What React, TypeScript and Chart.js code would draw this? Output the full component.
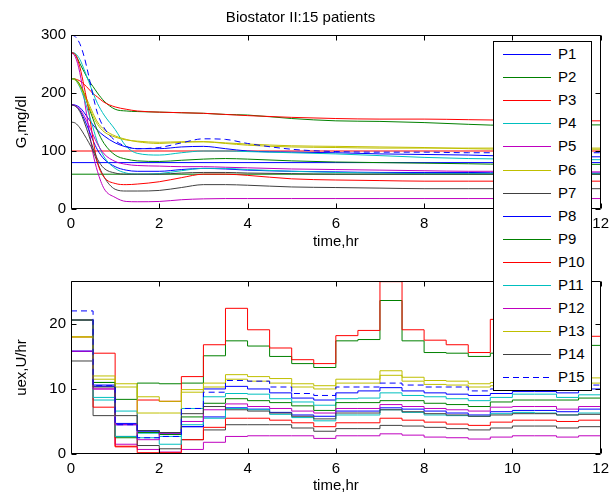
import React, { useEffect, useRef } from "react";
import { Chart, registerables } from "chart.js";

Chart.register(...registerables);

const FONT = "'Liberation Sans', Arial, Helvetica, sans-serif";

// ---------- data ----------
const patients = ["P1", "P2", "P3", "P4", "P5", "P6", "P7", "P8", "P9", "P10", "P11", "P12", "P13", "P14", "P15"];

const xTicks = [0, 2, 4, 6, 8, 10, 12];
const gTicks = [0, 100, 200, 300];
const uTicks = [0, 10, 20];

// glucose sample times (hr)
const tG = [0, 0.1, 0.2, 0.3, 0.4, 0.5, 0.6, 0.75, 1, 1.25, 1.5, 2, 2.5, 3, 3.5, 4, 5, 6, 7, 8, 9, 10, 11, 12];

const gP1 = [180, 179, 175, 166, 155, 145, 136, 126, 114, 107, 104, 104, 107, 108, 104, 100, 98, 97, 95, 94, 93, 91, 90, 90];
const gP2 = [270, 266, 251, 236, 222, 211, 200, 186, 172, 169, 168, 167, 166, 165, 163, 162, 156, 152, 151, 149, 146, 144, 145, 145];
const gP3 = [225, 224, 221, 215, 207, 199, 193, 184, 176, 172, 169, 167, 166, 165, 163, 161, 158, 156, 155, 155, 154, 153, 152, 152];
const gP4 = [270, 268, 258, 240, 220, 200, 182, 162, 137, 108, 96, 93, 97, 100, 100, 99, 97, 95, 92, 89, 87, 86, 85, 85];
const gP5 = [270, 262, 235, 190, 140, 95, 65, 35, 20, 13, 12.5, 13, 16, 17.5, 18, 18, 18, 18, 18, 18, 18, 18, 18, 18];
const gP6 = [225, 224, 215, 200, 182, 165, 150, 137, 126, 120, 116, 113, 115, 116, 113, 110, 107, 106, 105, 105, 105, 105, 105, 105];
const gP7 = [150, 148, 140, 128, 115, 100, 80, 55, 34, 31, 31, 32, 37, 42, 42, 41, 38, 37, 36, 35, 35, 35, 35, 35];
const gP8 = [180, 178, 170, 155, 137, 118, 102, 86, 73, 67, 65, 65, 68, 70, 69, 67, 65, 64, 63, 63, 63, 62, 62, 62];
const gP9 = [225, 223, 214, 197, 176, 155, 135, 113, 93, 86, 83, 82, 84, 86, 87, 86, 83, 81, 80, 79, 78, 77, 77, 77];
const gP10 = [270, 266, 245, 210, 170, 120, 80, 55, 44, 42, 43, 47, 54, 60, 60, 58, 52, 50, 49, 48, 48, 48, 48, 48];
const gP11 = [225, 222, 210, 190, 165, 140, 115, 90, 70, 62, 60, 61, 66, 70, 70, 68, 65, 63, 62, 61, 61, 61, 61, 61];
const gP12 = [180, 178, 172, 160, 145, 128, 112, 95, 82, 77, 75, 74, 73, 73, 72, 71, 69, 68, 67, 66, 65, 65, 64, 64];
const gP13 = [225, 222, 212, 196, 178, 160, 146, 133, 124, 119, 117, 115, 116, 116, 114, 112, 109, 108, 107, 106, 104, 103, 103, 103];
const gP14 = [180, 177, 168, 150, 128, 105, 86, 70, 62, 60, 60, 60, 62, 63, 63, 62, 61, 60, 60, 60, 60, 60, 60, 60];
const gP15 = [300, 297, 285, 262, 230, 195, 165, 140, 118, 108, 104, 106, 114, 121, 120, 113, 103, 99, 98, 98, 97, 97, 97, 97];
const glucose = [gP1, gP2, gP3, gP4, gP5, gP6, gP7, gP8, gP9, gP10, gP11, gP12, gP13, gP14, gP15];

// constant reference levels drawn across the glucose panel
const refLevels = [100, 80, 60];

// insulin step times (hr) – each value holds for the half hour that starts at tU[i]
const tU = [0, 0.5, 1, 1.5, 2, 2.5, 3, 3.5, 4, 4.5, 5, 5.5, 6, 6.5, 7, 7.5, 8, 8.5, 9, 9.5, 10, 10.5, 11, 11.5, 12];

const uP1 = [15.8, 10.4, 4.7, 3.6, 3.2, 4.2, 10.0, 10.4, 10.0, 9.4, 8.6, 8.3, 9.4, 9.7, 10.2, 9.7, 9.4, 9.2, 9.0, 9.3, 9.6, 9.6, 9.4, 10.0];
const uP2 = [20.6, 11.0, 8.4, 10.9, 10.8, 10.9, 15.1, 17.4, 16.6, 15.0, 13.9, 13.3, 17.4, 17.6, 23.6, 17.4, 15.6, 15.5, 15.0, 15.5, 15.2, 15.0, 15.8, 16.7];
const uP3 = [18.0, 15.5, 1.2, 8.3, 8.1, 11.9, 16.8, 22.4, 19.1, 16.3, 14.5, 13.9, 18.2, 19.0, 26.5, 19.1, 17.5, 16.8, 15.6, 20.7, 19.0, 19.5, 23.5, 18.1];
const uP4 = [20.6, 8.3, 6.6, 3.2, 2.7, 7.0, 8.8, 9.3, 9.2, 8.5, 8.0, 7.5, 8.5, 8.6, 9.4, 9.0, 8.8, 8.5, 8.2, 8.7, 9.2, 9.2, 8.7, 9.1];
const uP5 = [20.6, 10.0, 1.5, 0.7, 0.3, 0.7, 1.8, 2.7, 2.8, 2.8, 2.8, 2.4, 2.8, 2.8, 3.1, 2.9, 2.6, 2.5, 2.3, 2.6, 2.8, 2.8, 2.6, 2.8];
const uP6 = [18.0, 12.0, 10.8, 8.8, 8.1, 9.9, 10.9, 12.2, 11.9, 11.6, 10.8, 10.5, 11.5, 11.5, 12.8, 11.8, 11.3, 11.2, 10.8, 11.0, 11.2, 11.2, 11.0, 11.7];
const uP7 = [14.3, 5.9, 2.7, 1.3, 0.8, 2.2, 3.7, 4.5, 4.5, 4.5, 4.0, 3.5, 3.9, 3.9, 4.4, 4.3, 4.1, 3.9, 3.7, 4.0, 4.3, 4.3, 4.0, 4.2];
const uP8 = [15.8, 10.6, 4.5, 3.5, 3.0, 4.2, 5.7, 7.1, 6.9, 6.4, 6.0, 5.8, 6.6, 6.6, 7.1, 6.9, 6.6, 6.3, 6.0, 6.5, 6.7, 6.7, 6.5, 6.9];
const uP9 = [20.6, 11.0, 2.5, 3.3, 3.0, 5.7, 7.8, 8.5, 8.2, 7.9, 7.4, 6.7, 7.9, 7.9, 8.2, 8.2, 7.8, 7.6, 7.3, 8.0, 8.3, 8.3, 8.3, 8.6];
const uP10 = [20.6, 7.2, 1.1, 0.2, 0.2, 2.2, 4.1, 5.5, 5.5, 5.2, 4.8, 4.2, 4.8, 4.8, 5.5, 5.2, 4.9, 4.6, 4.4, 4.9, 5.2, 5.2, 5.0, 5.2];
const uP11 = [20.6, 8.7, 2.7, 2.5, 1.5, 4.5, 5.5, 7.0, 6.8, 6.1, 5.6, 5.1, 6.0, 6.0, 6.8, 6.4, 6.0, 5.9, 5.8, 6.2, 6.4, 6.3, 6.0, 6.3];
const uP12 = [15.8, 10.0, 4.5, 2.2, 3.2, 5.0, 6.8, 7.7, 7.3, 7.0, 6.6, 6.3, 7.0, 7.0, 7.6, 7.3, 7.0, 6.8, 6.6, 7.2, 7.3, 7.3, 6.9, 7.3];
const uP13 = [18.0, 11.5, 10.3, 6.3, 6.3, 9.5, 10.3, 11.5, 11.2, 10.9, 10.3, 10.0, 10.9, 10.9, 12.1, 11.2, 10.7, 10.6, 10.3, 10.5, 10.6, 10.6, 10.4, 10.9];
const uP14 = [20.6, 10.3, 5.9, 3.6, 3.3, 6.2, 7.3, 6.8, 6.6, 6.3, 5.8, 5.4, 6.3, 6.3, 6.8, 6.5, 6.2, 6.0, 5.8, 6.0, 6.2, 6.2, 6.0, 6.1];
const uP15 = [22.0, 10.5, 4.5, 2.5, 2.7, 7.0, 9.5, 11.3, 11.2, 10.3, 9.3, 9.0, 10.3, 10.3, 10.9, 10.6, 10.3, 10.3, 9.7, 10.0, 10.3, 10.3, 10.1, 10.6];
const insulin = [uP1, uP2, uP3, uP4, uP5, uP6, uP7, uP8, uP9, uP10, uP11, uP12, uP13, uP14, uP15];

const uMax = 26.6;

// ---------- styles ----------
const BLUE = "#0000ff", GREEN = "#008000", RED = "#ff0000", CYAN = "#00bfbf", MAG = "#bf00bf", YEL = "#bfbf00", GRAY = "#404040";
const colors = [BLUE, GREEN, RED, CYAN, MAG, YEL, GRAY, BLUE, GREEN, RED, CYAN, MAG, YEL, GRAY, BLUE];
const refColors = [RED, BLUE, GREEN];
const dashes: number[][] = patients.map((_, i) => (i === 14 ? [6, 4] : []));

const boxPlugin = {
  id: "matlabBox",
  afterDatasetsDraw(chart: any) {
    const { ctx, chartArea: a, scales } = chart;
    const L = Math.round(a.left) + 0.5;
    const R = Math.round(a.right) - 0.5;
    const T = Math.round(a.top) + 0.5;
    const B = Math.round(a.bottom) - 0.5;
    ctx.save();
    ctx.strokeStyle = "#000";
    ctx.lineWidth = 1;
    ctx.beginPath();
    ctx.rect(L, T, R - L, B - T);
    const tl = 5;
    scales.x.ticks.forEach((t: any) => {
      const x = Math.round(scales.x.getPixelForValue(t.value)) + 0.5;
      ctx.moveTo(x, B);
      ctx.lineTo(x, B - tl);
      ctx.moveTo(x, T);
      ctx.lineTo(x, T + tl);
    });
    scales.y.ticks.forEach((t: any) => {
      const y = Math.round(scales.y.getPixelForValue(t.value)) + 0.5;
      ctx.moveTo(L, y);
      ctx.lineTo(L + tl, y);
      ctx.moveTo(R, y);
      ctx.lineTo(R - tl, y);
    });
    ctx.stroke();
    ctx.restore();
  },
};

const tickFont = { family: FONT, size: 15 };
const titleFont = { family: FONT, size: 15, lineHeight: 1 };

function makeScales(yMin: number, yMax: number, yTicks: number[], yTitle: string, xHeight: number, xTitlePad: number) {
  return {
    x: {
      type: "linear" as const,
      min: xTicks[0],
      max: xTicks[xTicks.length - 1],
      afterBuildTicks: (s: any) => {
        s.ticks = xTicks.map((v) => ({ value: v }));
      },
      afterFit: (s: any) => {
        s.height = xHeight;
      },
      grid: { display: false, drawTicks: false },
      border: { display: false },
      ticks: { padding: 6, color: "#000", font: tickFont, maxRotation: 0, autoSkip: false },
      title: { display: true, text: "time,hr", color: "#000", font: titleFont, padding: { top: 0, bottom: xTitlePad } },
    },
    y: {
      type: "linear" as const,
      min: yMin,
      max: yMax,
      afterBuildTicks: (s: any) => {
        s.ticks = yTicks.map((v) => ({ value: v }));
      },
      afterFit: (s: any) => {
        s.width = 71;
      },
      grid: { display: false, drawTicks: false },
      border: { display: false },
      ticks: { padding: 5, color: "#000", font: tickFont, autoSkip: false },
      title: { display: true, text: yTitle, color: "#000", font: titleFont, padding: { top: 14, bottom: 0 } },
    },
  };
}

export default function App() {
  const topRef = useRef<HTMLCanvasElement | null>(null);
  const botRef = useRef<HTMLCanvasElement | null>(null);

  useEffect(() => {
    const gDatasets: any[] = glucose.map((vals, i) => ({
      label: patients[i],
      data: tG.map((t, k) => ({ x: t, y: vals[k] })),
      borderColor: colors[i],
      borderWidth: 1,
      borderDash: dashes[i],
      pointRadius: 0,
      fill: false,
      cubicInterpolationMode: "monotone",
      order: 20 - i,
    }));
    refLevels.forEach((lvl, j) => {
      gDatasets.push({
        label: "ref" + j,
        data: [
          { x: xTicks[0], y: lvl },
          { x: xTicks[xTicks.length - 1], y: lvl },
        ],
        borderColor: refColors[j],
        borderWidth: 1,
        pointRadius: 0,
        fill: false,
        order: 30,
      });
    });

    const top = new Chart(topRef.current!, {
      type: "line",
      data: { datasets: gDatasets },
      options: {
        responsive: false,
        animation: false,
        events: [],
        layout: { padding: { left: 0, right: 14, top: 0, bottom: 0 } },
        plugins: {
          legend: { display: false },
          tooltip: { enabled: false },
          title: {
            display: true,
            text: "Biostator II:15 patients",
            color: "#000",
            font: { family: FONT, size: 15, weight: "normal", lineHeight: 1 },
            padding: { top: 10, bottom: 10 },
          },
        },
        scales: makeScales(gTicks[0], gTicks[gTicks.length - 1], gTicks, "G,mg/dl", 43, 2.5),
      },
      plugins: [boxPlugin],
    });

    const uDatasets = insulin.map((vals, i) => ({
      label: patients[i],
      data: tU.map((t, k) => ({ x: t, y: vals[Math.min(k, vals.length - 1)] })),
      borderColor: colors[i],
      borderWidth: 1,
      borderDash: dashes[i],
      pointRadius: 0,
      fill: false,
      stepped: true,
      order: 20 - i,
    }));

    const bot = new Chart(botRef.current!, {
      type: "line",
      data: { datasets: uDatasets },
      options: {
        responsive: false,
        animation: false,
        events: [],
        layout: { padding: { left: 0, right: 14, top: 29, bottom: 0 } },
        plugins: { legend: { display: false }, tooltip: { enabled: false } },
        scales: makeScales(uTicks[0], uMax, uTicks, "uex,U/hr", 41, 1.5),
      },
      plugins: [boxPlugin],
    });

    return () => {
      top.destroy();
      bot.destroy();
    };
  }, []);

  return (
    <div style={{ position: "absolute", left: 0, top: 0, width: 615, height: 495, background: "#fff", overflow: "hidden" }}>
      <canvas ref={topRef} width={615} height={252} style={{ position: "absolute", left: 0, top: 0, display: "block" }} />
      <canvas ref={botRef} width={615} height={243} style={{ position: "absolute", left: 0, top: 252, display: "block" }} />
      <div
        style={{
          position: "absolute",
          left: 493,
          top: 41,
          width: 99,
          height: 350,
          boxSizing: "border-box",
          border: "1px solid #000",
          background: "#fff",
          fontFamily: FONT,
          fontSize: 15,
          color: "#000",
        }}
      >
        {patients.map((p, i) => (
          <div
            key={p}
            style={{
              position: "absolute",
              left: 0,
              top: 12 + i * 23.1 - 10,
              height: 20,
              width: 97,
              display: "flex",
              alignItems: "center",
            }}
          >
            <svg width={64} height={20} style={{ display: "block", flex: "none" }}>
              <line
                x1={9}
                x2={57}
                y1={10.5}
                y2={10.5}
                stroke={colors[i]}
                strokeWidth={1}
                strokeDasharray={dashes[i].length ? dashes[i].join(" ") : undefined}
              />
            </svg>
            <span style={{ lineHeight: "20px", whiteSpace: "nowrap" }}>{p}</span>
          </div>
        ))}
      </div>
    </div>
  );
}
